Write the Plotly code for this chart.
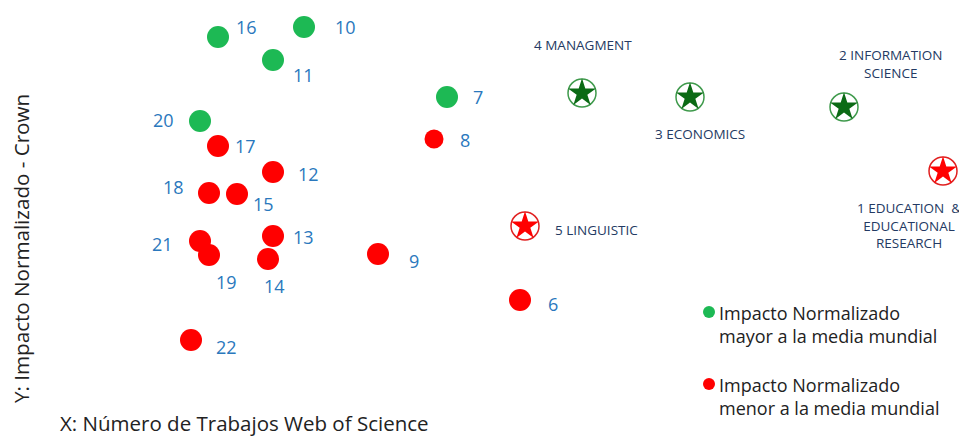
import plotly.graph_objects as go

# --- data (arbitrary chart units, y grows downward as drawn) ---
ids = ["6", "7", "8", "9", "10", "11", "12", "13", "14", "15", "16", "17", "18", "19", "20", "21", "22"]
x_works = [520, 447, 434, 378, 304, 273, 273, 273, 268, 237, 218, 218, 209, 209, 200, 200, 191]
y_impact = [300, 97, 139, 254, 27, 60, 172, 236, 259, 194, 37, 146, 193, 255, 121, 241, 340]
above_mean = [False, True, False, False, True, True, False, False, False, False, True, False, False, False, True, False, False]

areas = ["1 EDUCATION  &<br>EDUCATIONAL<br>RESEARCH", "2 INFORMATION<br>SCIENCE", "3 ECONOMICS", "4 MANAGMENT", "5 LINGUISTIC"]
area_x = [943, 844, 690, 582, 525]
area_y = [171, 107, 97, 93, 226]
area_above = [False, True, True, True, False]

# label offsets (pixels) for each numbered point
label_off = {"6": (33, 4), "7": (31, 0), "8": (31, 1), "9": (36, 7), "10": (41, 0), "11": (30, 15),
             "12": (35, 2), "13": (30, 1), "14": (6, 27), "15": (26, 10), "16": (28, -10), "17": (27, 0),
             "18": (-36, -6), "19": (17, 27), "20": (-37, -1), "21": (-38, 3), "22": (35, 7)}
area_label_pos = {"1 EDUCATION  &<br>EDUCATIONAL<br>RESEARCH": (909, 225),
                  "2 INFORMATION<br>SCIENCE": (891, 64),
                  "3 ECONOMICS": (700, 134),
                  "4 MANAGMENT": (583, 45),
                  "5 LINGUISTIC": (596, 230)}

GREEN = "#1db954"
RED = "#ff0000"
DKGREEN = "#0b6a15"
BLUE = "#2a78bd"
NAVY = "#243a63"
FONT = "Open Sans"

fig = go.Figure()
fig.add_trace(go.Scatter(
    x=x_works, y=y_impact, mode="markers",
    marker=dict(size=[19 if i == "8" else 22 for i in ids], opacity=1,
                color=[GREEN if a else RED for a in above_mean], line=dict(width=0)),
    hoverinfo="text", text=ids, showlegend=False))
# circle outlines of areas
fig.add_trace(go.Scatter(
    x=area_x, y=area_y, mode="markers",
    marker=dict(symbol="circle", size=28, color="white", opacity=1,
                line=dict(width=1.5, color=["#e02020" if not a else "#3f9a4c" for a in area_above])),
    hoverinfo="skip", showlegend=False))
fig.add_trace(go.Scatter(
    x=area_x, y=area_y, mode="markers",
    marker=dict(symbol="star", size=21, opacity=1,
                color=[RED if not a else DKGREEN for a in area_above], line=dict(width=0)),
    hoverinfo="text", text=areas, showlegend=False))

anns = []
for i, xx, yy in zip(ids, x_works, y_impact):
    dx, dy = label_off[i]
    anns.append(dict(x=xx + dx, y=yy + dy, text=i, showarrow=False, xanchor="center", yanchor="middle",
                     font=dict(size=18, color=BLUE, family=FONT)))
for a in areas:
    px, py = area_label_pos[a]
    anns.append(dict(x=px, y=py, text=a, showarrow=False, xanchor="center", yanchor="middle",
                     font=dict(size=13.5, color=NAVY, family=FONT)))

# legend
leg_items = [("Impacto Normalizado<br>mayor a la media mundial", GREEN, 312),
             ("Impacto Normalizado<br>menor a la media mundial", RED, 384)]
shapes = []
for txt, col, yy in leg_items:
    shapes.append(dict(type="circle", xref="x", yref="y", x0=703, x1=715, y0=yy - 6, y1=yy + 6,
                       fillcolor=col, line=dict(width=0)))
    anns.append(dict(x=717, y=yy - 13, text=txt, showarrow=False, xanchor="left", yanchor="top", align="left",
                     font=dict(size=18, color="#222222", family=FONT)))

anns.append(dict(x=58, y=423, text="X: Número de Trabajos Web of Science", showarrow=False,
                 xanchor="left", yanchor="middle", font=dict(size=20.5, color="#222222", family=FONT)))
anns.append(dict(x=21, y=249, text="Y: Impacto Normalizado - Crown", showarrow=False, textangle=-90,
                 xanchor="center", yanchor="middle", font=dict(size=20.6, color="#222222", family=FONT)))

# page body has an 8px margin: figure is 959x428 and axes start at 8px
fig.update_layout(
    width=959, height=428, margin=dict(l=0, r=0, t=0, b=0),
    paper_bgcolor="white", plot_bgcolor="white",
    xaxis=dict(range=[8, 967], visible=False, fixedrange=True),
    yaxis=dict(range=[436, 8], visible=False, fixedrange=True),
    annotations=anns, shapes=shapes)

fig.write_html("out.html")
